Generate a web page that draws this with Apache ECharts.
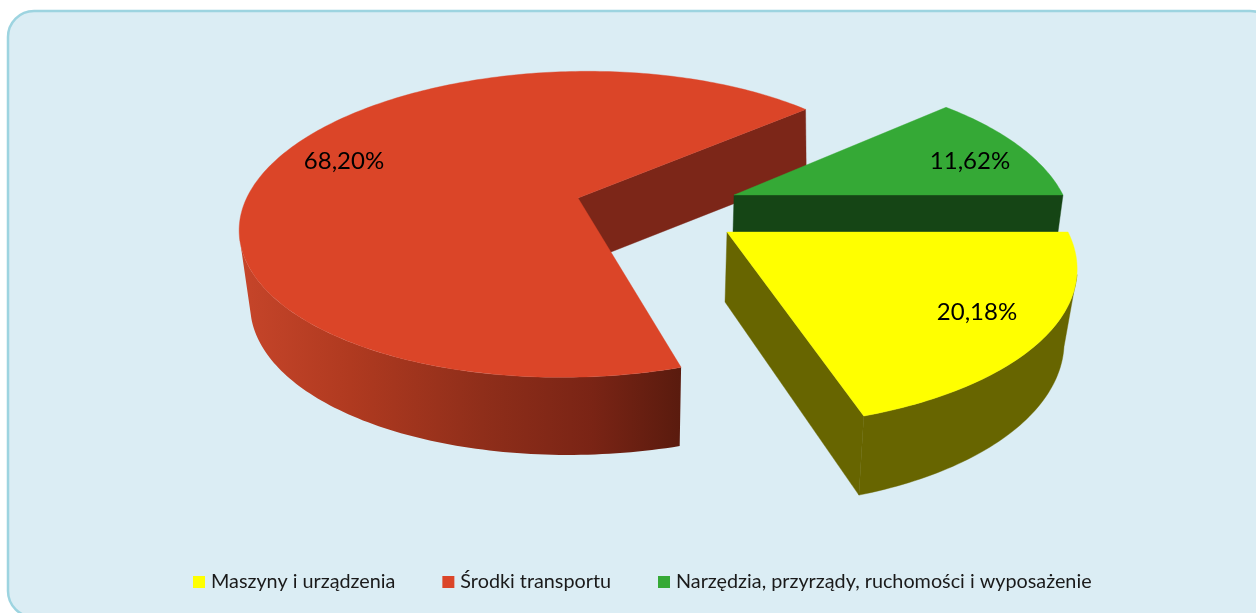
<!DOCTYPE html>
<html><head><meta charset="utf-8">
<style>html,body{margin:0;padding:0;background:#fff}#c{width:1256px;height:613px}</style>
<script src="https://cdn.jsdelivr.net/npm/echarts@6/dist/echarts.min.js"></script>
</head><body><div id="c"></div>
<script>
const categories = ['Maszyny i urządzenia', 'Środki transportu', 'Narzędzia, przyrządy, ruchomości i wyposażenie'];
const shares = [20.18, 68.20, 11.62];
const topColors = ['#ffff00', '#db4528', '#35a936'];

// Perspective of each exploded slice: top and bottom rim of the disc.
const tiltTop = [
  {x:727,y:232,rx:341,k:156,a:.2,b:0,s:-9.4},
  {x:578,y:198,rx:330,k:148.5,a:.172,b:.004,s:12.7},
  {x:734,y:195,rx:329,k:152,a:.234,b:0,s:0}
];
const tiltBottom = [
  {x:725,y:302,rx:330,k:163.7,a:.2,b:0,s:-10.4},
  {x:578,y:265,rx:326.3,k:150.4,a:.2077,b:-.03,s:17.5},
  {x:733,y:232,rx:325,k:152,a:.234,b:0,s:0}
];
const labelSpots = [[977,312],[344,161],[970,161]];
const sideColors = ['#676500', '#7c2618', '#154515'];

function project(t, deg, rho){
  const r = rho === undefined ? 1 : rho, th = deg*Math.PI/180;
  const u = r*Math.cos(th), v = r*Math.sin(th), w = 1 + t.a*v + t.b*u;
  return [t.x + (t.rx*u + t.s*v)/w, t.y - t.k*v/w];
}
function arc(t, from, to){
  const n = Math.max(2, Math.ceil(Math.abs(to-from))), pts = [];
  for (let i=0;i<=n;i++) pts.push(project(t, from+(to-from)*i/n));
  return pts;
}
function poly(points, fill){
  return {type:'polygon', shape:{points}, style:{fill, stroke:fill, lineWidth:.4}};
}
const total = shares.reduce((a,b)=>a+b,0);
// Clockwise from east, in legend order
const spans = []; { let c = 0; shares.forEach(v=>{ const e = c - v/total*360; spans.push([c,e]); c = e; }); }

function renderSlice(idx){
  return function(params, api){
    const value = api.value(0);
    const [a0,a1] = spans[idx], T = tiltTop[idx], B = tiltBottom[idx];
    const apexT = project(T,0,0), apexB = project(B,0,0);
    const children = [];
    if (idx===0){
      children.push(poly(arc(T,a1,a0-15).concat(arc(B,a0-15,a1)), sideColors[0]));
      children.push(poly([apexT,project(T,a1),project(B,a1),apexB], sideColors[0]));
    }
    if (idx===1){
      const grad = new echarts.graphic.LinearGradient(240,0,680,0,[
        {offset:0,color:'#c6452a'},{offset:.25,color:'#b03a20'},{offset:.55,color:'#8f2e1a'},
        {offset:.8,color:'#7a2415'},{offset:1,color:'#5a1b0e'}],true);
      children.push(poly([apexT,project(T,a1),project(B,a1),apexB], sideColors[1]));
      children.push({type:'polygon',shape:{points:arc(T,-166,a0).concat(arc(B,a0,-160))},style:{fill:grad}});
    }
    if (idx===2){
      children.push(poly([apexT,project(T,a1),project(B,a1),apexB], sideColors[2]));
    }
    children.push(poly([apexT].concat(arc(T,a0,a1)), topColors[idx]));
    children.push({type:'text',style:{
      x:labelSpots[idx][0],y:labelSpots[idx][1],text:value.toFixed(2).replace('.',',')+'%',
      fill:'#000',font:'24px Lato',align:'center',verticalAlign:'middle'}});
    return {type:'group',children};
  };
}
const drawOrder = {0:3,1:1,2:2};
const chart = echarts.init(document.getElementById('c'),null,{renderer:'canvas'});
chart.setOption({
  animation:false,
  graphic:[{type:'rect',z:-1,silent:true,shape:{x:8,y:11,width:1268,height:606,r:26},
    style:{fill:'#dbedf4',stroke:'#9dd4e0',lineWidth:2.5}}],
  legend:{left:188,top:567,icon:'rect',itemWidth:12,itemHeight:12,itemGap:47,data:categories,selectedMode:false,
    textStyle:{fontFamily:'Lato',fontSize:19.8,color:'#1a1a1a',padding:[0,0,3,1]}},
  series:categories.map((name,i)=>({
    type:'custom',name,coordinateSystem:'none',silent:true,z:drawOrder[i],
    itemStyle:{color:topColors[i]},
    renderItem:renderSlice(i),
    data:[[shares[i]]]
  }))
});
</script></body></html>
